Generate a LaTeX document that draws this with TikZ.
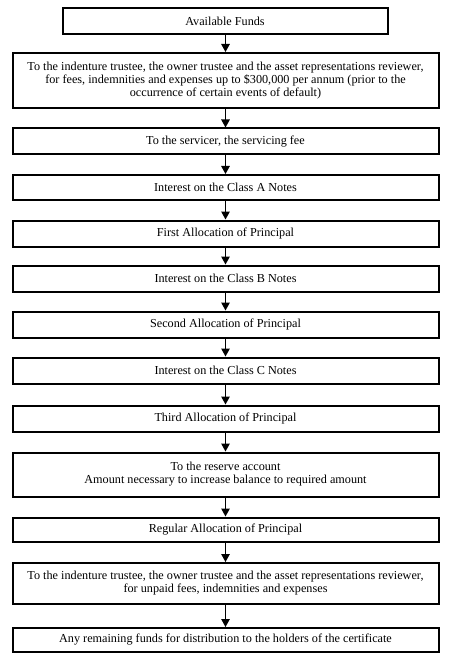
\documentclass[tikz,border=0pt]{standalone}
\usepackage{fontspec}
\setmainfont{Liberation Serif}
\usetikzlibrary{arrows.meta}
\begin{document}
\begin{tikzpicture}[x=1pt,y=-1pt,
  box/.style={draw=black, line width=2pt, fill=white, align=center, inner sep=0pt,
    font=\fontsize{12.2}{12.9}\selectfont, text=black},
  wide/.style={box, minimum width=426pt},
  flow/.style={line width=1.2pt, -{Triangle[length=8pt,width=8.5pt]}}]
\useasboundingbox (0,0) rectangle (451,660);
\node[box, minimum width=325pt, minimum height=26pt] (n1) at (225,21.5) {Available Funds};
\node[wide, minimum height=55pt] (n2) at (225.5,80.5) {To the indenture trustee, the owner trustee and the asset representations reviewer,\\for fees, indemnities and expenses up to \$300,000 per annum (prior to the\\occurrence of certain events of default)};
\node[wide, minimum height=26pt] (n3) at (225.5,141.5) {To the servicer, the servicing fee};
\node[wide, minimum height=25pt] (n4) at (225.5,187.5) {Interest on the Class A Notes};
\node[wide, minimum height=26pt] (n5) at (225.5,233.5) {First Allocation of Principal};
\node[wide, minimum height=26pt] (n6) at (225.5,278.5) {Interest on the Class B Notes};
\node[wide, minimum height=26pt] (n7) at (225.5,324.5) {Second Allocation of Principal};
\node[wide, minimum height=26pt] (n8) at (225.5,370.5) {Interest on the Class C Notes};
\node[wide, minimum height=26pt] (n9) at (225.5,418.5) {Third Allocation of Principal};
\node[wide, minimum height=44pt] (n10) at (225.5,474.5) {To the reserve account\\Amount necessary to increase balance to required amount};
\node[wide, minimum height=24pt] (n11) at (225.5,529.5) {Regular Allocation of Principal};
\node[wide, minimum height=41pt] (n12) at (225.5,583.5) {To the indenture trustee, the owner trustee and the asset representations reviewer,\\for unpaid fees, indemnities and expenses};
\node[wide, minimum height=24pt] (n13) at (225.5,640) {Any remaining funds for distribution to the holders of the certificate};
\foreach \a/\b in {n1/n2,n2/n3,n3/n4,n4/n5,n5/n6,n6/n7,n7/n8,n8/n9,n9/n10,n10/n11,n11/n12,n12/n13}
  \draw[flow] (\a.south -| 225.5,0) -- (\b.north -| 225.5,0);
\end{tikzpicture}
\end{document}
